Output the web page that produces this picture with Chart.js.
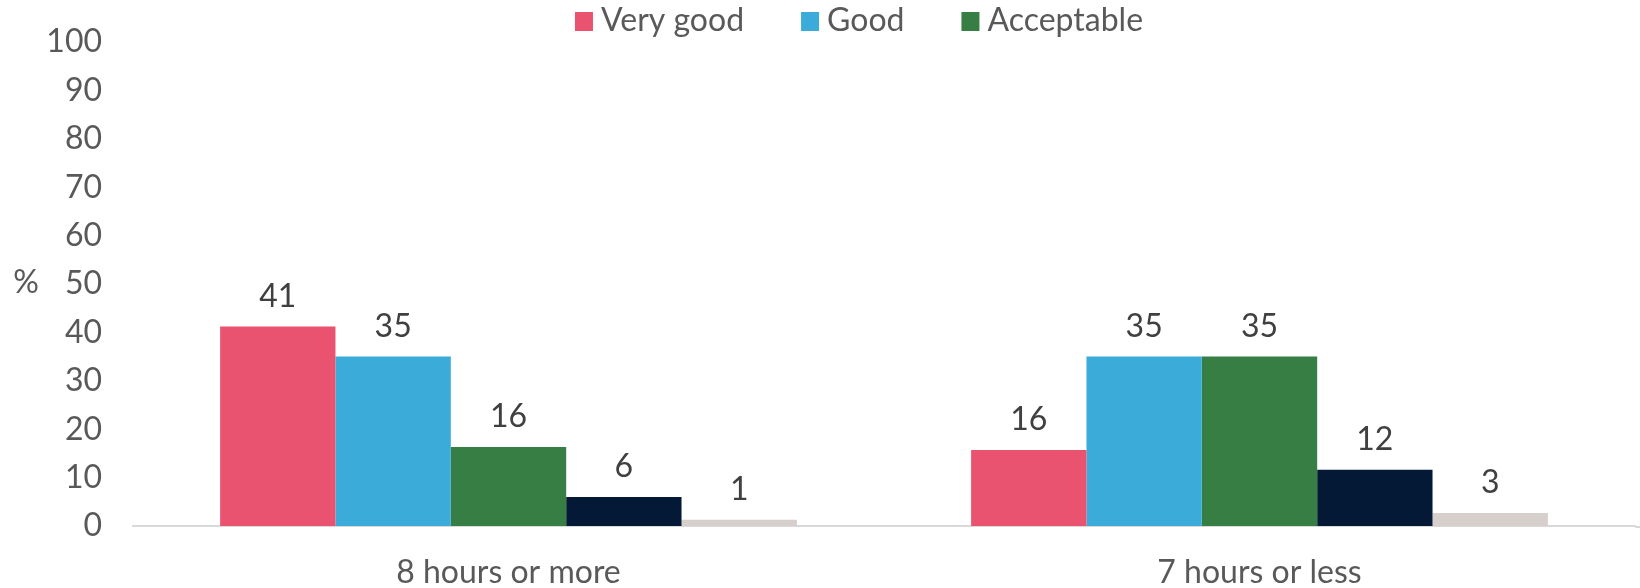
<!DOCTYPE html>
<html>
<head>
<meta charset="utf-8">
<script src="https://cdn.jsdelivr.net/npm/chart.js@4/dist/chart.umd.min.js"></script>
<style>
  html, body { margin: 0; padding: 0; background: #fff; }
  #wrap { width: 1640px; height: 588px; }
</style>
</head>
<body>
<div id="wrap"><canvas id="myChart" width="1640" height="588"></canvas></div>
<script>
// data
var categories = ["8 hours or more", "7 hours or less"];
var veryGood = [41.2, 15.7];
var good = [35, 35];
var acceptable = [16.3, 35];
var poor = [6.0, 11.6];
var veryPoor = [1.3, 2.7];
var yTicks = [0, 10, 20, 30, 40, 50, 60, 70, 80, 90, 100];
var legendNames = ["Very good", "Good", "Acceptable"];

var FONT = "Lato, 'Open Sans', sans-serif";
var TEXT = "#595959";

// values above bars
var valueLabels = {
	id: "valueLabels",
	afterDatasetsDraw: function(chart) {
		var ctx = chart.ctx;
		ctx.save();
		ctx.font = "32px " + FONT;
		ctx.fillStyle = "#404040";
		ctx.textAlign = "center";
		ctx.textBaseline = "middle";
		chart.data.datasets.forEach(function(ds, i) {
			var meta = chart.getDatasetMeta(i);
			meta.data.forEach(function(bar, j) {
				ctx.fillText(Math.round(ds.data[j]), bar.x, bar.y - 30);
			});
		});
		ctx.restore();
	}
};

// legend (only the first three series) + the "%" unit
var topLegend = {
	id: "topLegend",
	afterDraw: function(chart) {
		var ctx = chart.ctx;
		ctx.save();
		ctx.font = "32px " + FONT;
		ctx.textBaseline = "middle";
		ctx.textAlign = "left";
		var box = 18, gapIn = 8, gapOut = 57;
		var widths = legendNames.map(function(n) { return ctx.measureText(n).width; });
		var total = 0;
		widths.forEach(function(w, i) { total += box + gapIn + w + (i < widths.length - 1 ? gapOut : 0); });
		var x = 859 - total / 2;
		legendNames.forEach(function(n, i) {
			ctx.fillStyle = chart.data.datasets[i].backgroundColor;
			ctx.fillRect(x, 12, box, 19);
			ctx.fillStyle = TEXT;
			ctx.fillText(n, x + box + gapIn, 21);
			x += box + gapIn + widths[i] + gapOut;
		});

		var y = chart.scales.y;
		ctx.textAlign = "center";
		ctx.fillText("%", 26, y.getPixelForValue(50) - 1);
		ctx.restore();
	}
};

// axis line runs on to the right edge of the picture
var axisExtend = {
	id: "axisExtend",
	afterDraw: function(chart) {
		var ctx = chart.ctx, a = chart.chartArea;
		ctx.save();
		ctx.strokeStyle = "#D9D9D9";
		ctx.lineWidth = 2;
		ctx.beginPath();
		ctx.moveTo(a.right, a.bottom + 1);
		ctx.lineTo(chart.width, a.bottom + 1);
		ctx.stroke();
		ctx.restore();
	}
};

var canvasElement = document.getElementById("myChart");
var config = {
	type: "bar",
	data: {
		labels: categories,
		datasets: [
			{ label: "Very good", data: veryGood, backgroundColor: "#EA5370" },
			{ label: "Good", data: good, backgroundColor: "#3BACD9" },
			{ label: "Acceptable", data: acceptable, backgroundColor: "#377E44" },
			{ label: "Poor", data: poor, backgroundColor: "#041936" },
			{ label: "Very poor", data: veryPoor, backgroundColor: "#D6CFCC" }
		]
	},
	options: {
		responsive: false,
		animation: false,
		layout: { padding: { top: 42, right: 5, left: 0, bottom: 0 } },
		datasets: {
			bar: { categoryPercentage: 0.768, barPercentage: 1.0 }
		},
		plugins: {
			legend: { display: false },
			tooltip: { enabled: false }
		},
		scales: {
			x: {
				grid: { display: false, drawTicks: false },
				border: { display: true, color: "#D9D9D9", width: 2 },
				ticks: { color: TEXT, font: { size: 32, family: FONT }, padding: 27 },
				afterFit: function(scale) { scale.height = 62; }
			},
			y: {
				min: 0,
				max: 100,
				grid: { display: false, drawTicks: false },
				border: { display: false },
				afterBuildTicks: function(scale) {
					scale.ticks = yTicks.map(function(v) { return { value: v }; });
				},
				ticks: { color: TEXT, font: { size: 32, family: FONT }, padding: 31 },
				afterFit: function(scale) {
					scale.width = 133;
					scale.paddingTop = 19;
					scale.paddingBottom = 19;
				}
			}
		}
	},
	plugins: [valueLabels, topLegend, axisExtend]
};
var myChart = new Chart(canvasElement, config);
</script>
</body>
</html>
